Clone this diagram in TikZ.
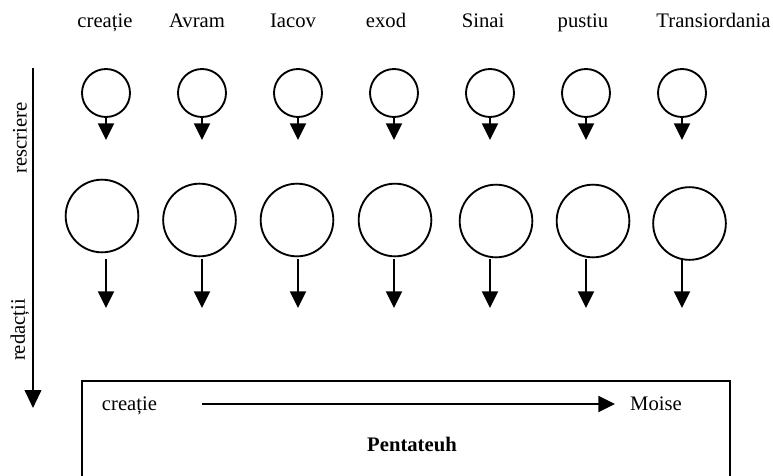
\documentclass[tikz,border=0pt]{standalone}
\usepackage{fontspec}
\setmainfont{Liberation Serif}
\usetikzlibrary{arrows.meta}

\begin{document}
\begin{tikzpicture}[x=0.75pt,y=-0.75pt, % pixel units, y pointing down
	> = {Triangle[width=12pt,length=12.5pt]}, % filled arrow head
	line width=1.4pt,
	every node/.style={font=\fontsize{15.5}{18}\selectfont},
	small/.style={circle,draw,minimum size=36pt,inner sep=0pt},
	big/.style={circle,draw,minimum size=54.5pt,inner sep=0pt},
	word/.style={anchor=base,inner sep=0pt},
	frame/.style={draw,minimum width=486pt,minimum height=88.5pt,inner sep=0pt}]
	\clip (0,0) rectangle (773,475);

	% the seven traditions
	\foreach \n/\x/\bx/\by/\tx/\t in {1/106/102/216/105/creație,
		2/202/199.5/220/197/Avram, 3/298/297/220/293/Iacov,
		4/394/395/220/386/exod, 5/490/496/221/483/Sinai,
		6/586/593/221/583/pustiu, 7/682/689.5/223.5/713.5/Transiordania}
	{
		\node[word] (t\n) at (\tx,27) {\t};
		\node[small] (s\n) at (\x,93) {};
		\coordinate (e\n) at (\x,140);
		\draw[->] (s\n.south) -- (e\n);
		\node[big] (b\n) at (\bx,\by) {};
		\coordinate (a\n) at (\x,259);
		\coordinate (z\n) at (\x,308);
		\draw[->] (a\n) -- (z\n);
	}

	% time axis on the left
	\coordinate (top) at (33,68);
	\coordinate (bot) at (33,408);
	\draw[-{Triangle[width=12.5pt,length=13.5pt]}] (top) -- (bot);
	\node[rotate=90] (rescr) at (20,138) {rescriere};
	\node[rotate=90] (redac) at (20,330) {redacții};

	% Pentateuh box
	\node[frame] (pent) at (406,440) {};
	\node[word] (c0) at (129.5,410) {creație};
	\node[word] (mo) at (656,410) {Moise};
	\node[word,font=\fontsize{15.5}{18}\selectfont\bfseries] (pt) at (412,451) {Pentateuh};
	\coordinate (h0) at (202,404);
	\coordinate (h1) at (615,404);
	\draw[->] (h0) -- (h1);

\end{tikzpicture}
\end{document}
